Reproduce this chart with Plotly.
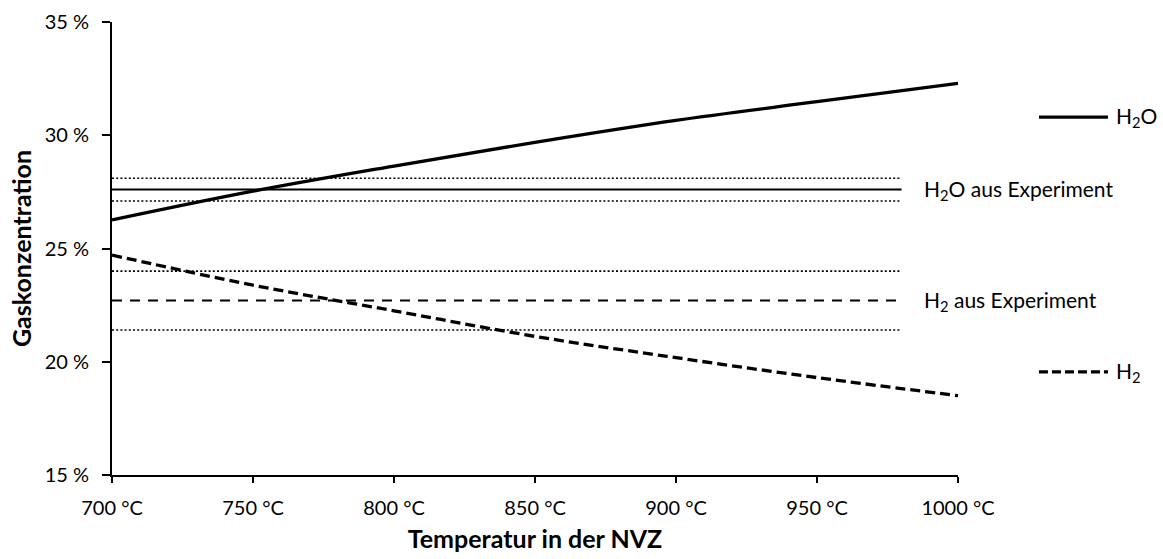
import plotly.graph_objects as go

# ---- data ----
temperature = [700, 750, 800, 850, 900, 950, 1000]
h2o_model = [26.26, 27.53, 28.64, 29.69, 30.66, 31.48, 32.29]
h2_model = [24.71, 23.38, 22.25, 21.12, 20.18, 19.30, 18.50]

exp_range = [700, 980]
h2o_exp = 27.6
h2o_exp_low = 27.1
h2o_exp_high = 28.1
h2_exp = 22.7
h2_exp_low = 21.4
h2_exp_high = 24.0

x_ticks = [700, 750, 800, 850, 900, 950, 1000]
x_tick_labels = [f"{v} °C" for v in x_ticks]
y_ticks = [15, 20, 25, 30, 35]
y_tick_labels = [f"{v} %" for v in y_ticks]

legend_y_h2o = 30.8
legend_y_h2 = 19.55

FONT = "Lato, 'DejaVu Sans', sans-serif"
BLACK = "#000000"
TICK_SIZE = 20
LABEL_SIZE = 21
TITLE_SIZE = 25

fig = go.Figure()

def hline(y, dash, width):
    fig.add_trace(go.Scatter(x=exp_range, y=[y, y], mode="lines",
                             line=dict(color=BLACK, width=width, dash=dash),
                             showlegend=False, hoverinfo="skip"))

# experiment bands
hline(h2o_exp_high, "2px,2.2px", 1.6)
hline(h2o_exp_low, "2px,2.2px", 1.6)
hline(h2o_exp, "solid", 2)
hline(h2_exp_high, "2px,2.2px", 1.6)
hline(h2_exp_low, "2px,2.2px", 1.6)
hline(h2_exp, "10px,8px", 2)

# model curves
fig.add_trace(go.Scatter(x=temperature, y=h2o_model, mode="lines", name="H₂O",
                         line=dict(color=BLACK, width=3.3, shape="spline"),
                         showlegend=False))
fig.add_trace(go.Scatter(x=temperature, y=h2_model, mode="lines", name="H₂",
                         line=dict(color=BLACK, width=3.3, dash="10px,5px", shape="spline"),
                         showlegend=False))

# legend-like keys on the right
shapes = [
    dict(type="line", xref="paper", yref="y", x0=1.0957, x1=1.1773,
         y0=legend_y_h2o, y1=legend_y_h2o, line=dict(color=BLACK, width=3.3)),
    dict(type="line", xref="paper", yref="y", x0=1.0957, x1=1.1773,
         y0=legend_y_h2, y1=legend_y_h2, line=dict(color=BLACK, width=3.3, dash="9px,4px")),
]
lab_font = dict(family=FONT, size=LABEL_SIZE, color=BLACK)
annotations = [
    dict(text="H<sub>2</sub>O", xref="paper", yref="y", x=1.1845, y=legend_y_h2o,
         xanchor="left", yanchor="middle", showarrow=False, font=lab_font),
    dict(text="H<sub>2</sub>", xref="paper", yref="y", x=1.1845, y=legend_y_h2,
         xanchor="left", yanchor="middle", showarrow=False, font=lab_font),
    dict(text="H<sub>2</sub>O aus Experiment", xref="paper", yref="y", x=0.9570, y=h2o_exp,
         xanchor="left", yanchor="middle", showarrow=False, font=lab_font),
    dict(text="H<sub>2</sub> aus Experiment", xref="paper", yref="y", x=0.9570, y=h2_exp,
         xanchor="left", yanchor="middle", showarrow=False, font=lab_font),
]

fig.update_layout(
    width=1163, height=559,
    margin=dict(l=112, r=205, t=22, b=84),
    paper_bgcolor="white", plot_bgcolor="white",
    font=dict(family=FONT, size=TICK_SIZE, color=BLACK),
    shapes=shapes, annotations=annotations,
    showlegend=False,
    xaxis=dict(range=[700, 1000], tickmode="array", tickvals=x_ticks, ticktext=x_tick_labels,
               automargin=False,
               showgrid=False, zeroline=False, showline=True, linecolor=BLACK,
               linewidth=2, ticks="outside", ticklen=6, tickwidth=2, tickcolor=BLACK,
               ticklabelstandoff=8,
               tickfont=dict(family=FONT, size=TICK_SIZE),
               title=dict(text="<b>Temperatur in der NVZ</b>", standoff=12,
                          font=dict(family=FONT, size=TITLE_SIZE))),
    yaxis=dict(range=[15, 35], tickmode="array", tickvals=y_ticks, ticktext=y_tick_labels,
               automargin=False,
               showgrid=False, zeroline=False, showline=True, linecolor=BLACK,
               linewidth=2, ticks="outside", ticklen=8, tickwidth=2, tickcolor=BLACK,
               ticklabelstandoff=9,
               tickfont=dict(family=FONT, size=TICK_SIZE),
               title=dict(text="<b>Gaskonzentration</b>", standoff=6,
                          font=dict(family=FONT, size=TITLE_SIZE))),
)

fig.write_html("out.html")
